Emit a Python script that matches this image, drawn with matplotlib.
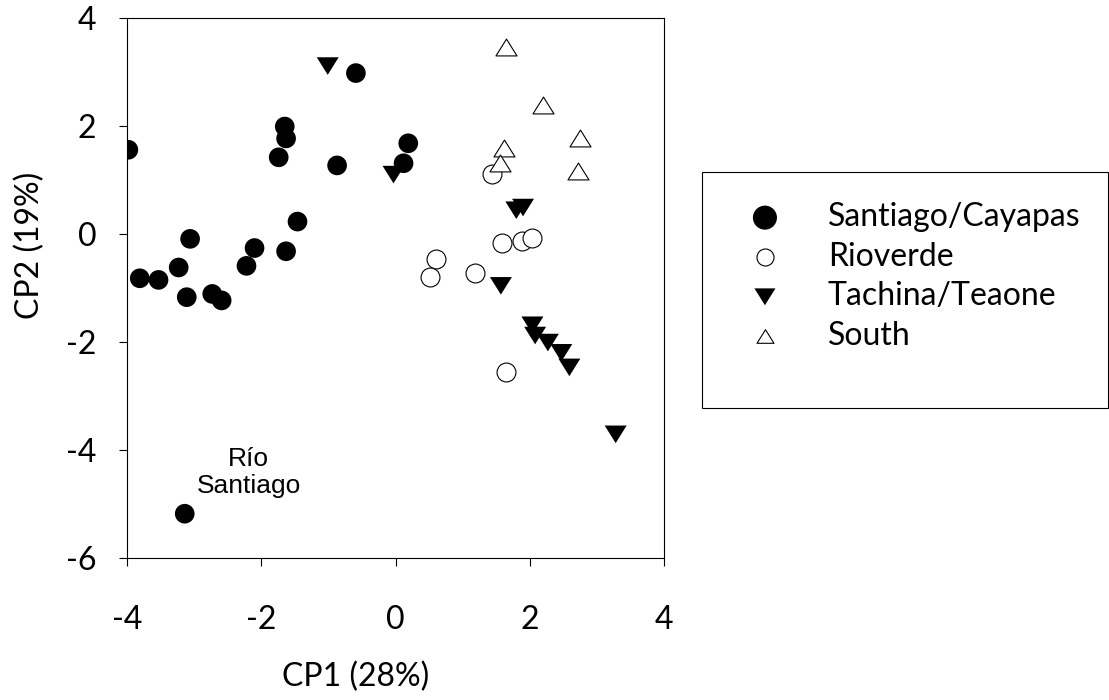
import numpy as np
import matplotlib
matplotlib.use('Agg')
import matplotlib.pyplot as plt
from matplotlib.patches import Rectangle
from matplotlib.path import Path

# PCA scores per river group (CP1, CP2)
santiago_x = [-3.98, -0.59, -1.65, -1.63, -1.74, -0.87, 0.19, 0.12, -1.46, -3.06,
              -3.81, -3.53, -3.23, -3.11, -2.73, -2.59, -2.10, -2.22, -1.63, -3.14]
santiago_y = [1.56, 2.98, 1.99, 1.77, 1.42, 1.27, 1.68, 1.31, 0.23, -0.09,
              -0.82, -0.85, -0.62, -1.17, -1.11, -1.23, -0.26, -0.59, -0.32, -5.18]

rioverde_x = [1.44, 1.58, 1.89, 2.03, 0.60, 0.52, 1.19, 1.64]
rioverde_y = [1.12, -0.17, -0.13, -0.07, -0.46, -0.79, -0.72, -2.55]

tachina_x = [-1.01, -0.03, 1.80, 1.90, 1.57, 2.04, 2.08, 2.27, 2.47, 2.59, 3.28]
tachina_y = [3.11, 1.10, 0.44, 0.49, -0.96, -1.69, -1.88, -2.01, -2.20, -2.47, -3.71]

south_x = [1.65, 2.20, 1.61, 1.56, 2.75, 2.72]
south_y = [3.47, 2.38, 1.59, 1.31, 1.77, 1.17]

labels = ['Santiago/Cayapas', 'Rioverde', 'Tachina/Teaone', 'South']

FONT = 'Lato'
plt.rcParams['axes.unicode_minus'] = False

# slightly squat triangles, closed so the outline is complete
tri_down = Path([(-1, 0.8), (1, 0.8), (0, -0.8), (-1, 0.8)], closed=True)
tri_up = Path([(-1, -0.8), (1, -0.8), (0, 0.8), (-1, -0.8)], closed=True)

fig = plt.figure(figsize=(11.09, 7.0), dpi=100)
ax = fig.add_axes([127 / 1109, 142 / 700, 537 / 1109, 540 / 700])

ax.scatter(santiago_x, santiago_y, s=200, marker='o', c='black', edgecolors='none',
           label=labels[0], zorder=3)
ax.scatter(rioverde_x, rioverde_y, s=185, marker='o', facecolors='white',
           edgecolors='black', linewidths=0.8, label=labels[1], zorder=3)
ax.scatter(tachina_x, tachina_y, s=250, marker=tri_down, c='black', edgecolors='none',
           label=labels[2], zorder=3)
ax.scatter(south_x, south_y, s=230, marker=tri_up, facecolors='white',
           edgecolors='black', linewidths=0.8, label=labels[3], zorder=3)

ax.text(-2.19, -4.42, 'Río\nSantiago', ha='center', va='center', ma='center',
        fontsize=19, family='Liberation Sans', linespacing=1.15)

ax.set_xlim(-4, 4)
ax.set_ylim(-6, 4)
ax.set_xticks([-4, -2, 0, 2, 4])
ax.set_yticks([-6, -4, -2, 0, 2, 4])
ax.tick_params(direction='out', length=6, width=0.8, labelsize=23, pad=16)
ax.tick_params(axis='x', pad=28)
for lab in ax.get_xticklabels() + ax.get_yticklabels():
    lab.set_family(FONT)
for sp in ax.spines.values():
    sp.set_linewidth(0.8)

ax.set_xlabel('CP1 (28%)', fontsize=23, family=FONT, va='center')
ax.xaxis.set_label_coords((356 - 127) / 537, (558 - 677) / 540)
ax.set_ylabel('CP2 (19%)', fontsize=23, family=FONT, va='center')
ax.yaxis.set_label_coords((30 - 127) / 537, (558 - 245) / 540)

# legend box on the right
fig.patches.append(Rectangle((702 / 1109, 1 - 408 / 700), 406 / 1109, 236 / 700,
                             transform=fig.transFigure, fill=False,
                             edgecolor='black', linewidth=0.8))
leg = fig.legend(loc='upper left', bbox_to_anchor=(702 / 1109, 1 - 172 / 700),
                 frameon=False, prop={'family': FONT, 'size': 23},
                 handlelength=2.06, handletextpad=0.94, borderpad=0.94,
                 labelspacing=0.3, borderaxespad=0)
sizes = [300, 150, 230, 150]
for h, sz in zip(leg.legend_handles, sizes):
    h.set_sizes([sz])

fig.savefig('out.png', dpi=100)
